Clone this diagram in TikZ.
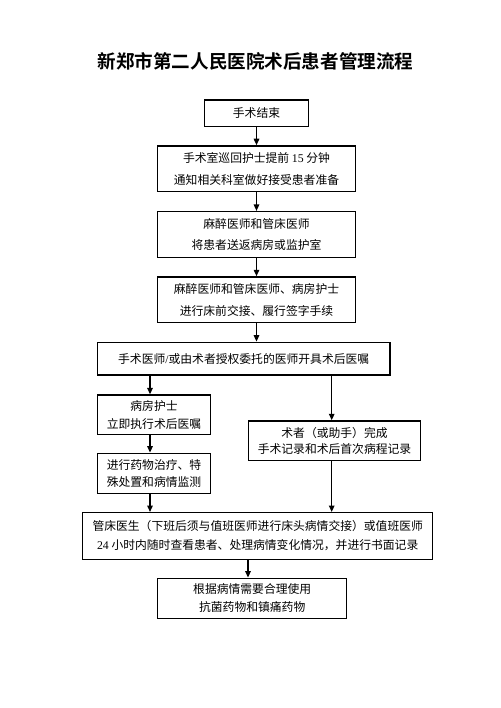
\documentclass[tikz,border=0pt]{standalone}
\usepackage{fontspec}
\setmainfont{Noto Sans CJK SC}
\newfontfamily\titlefont{Noto Sans CJK SC Bold}
\newfontfamily\latfont{Liberation Serif}
\newcommand{\lat}[1]{{\latfont #1}}
\usetikzlibrary{arrows.meta}
\begin{document}
\begin{tikzpicture}[x=1pt,y=-1pt,
  box/.style={draw,line width=1.4pt,inner sep=0pt,align=center,font=\fontsize{11.8}{21.7}\selectfont},
  arr/.style={line width=1.4pt,-{Triangle[length=6.5pt,width=5.5pt]}}]
\useasboundingbox[fill=white] (0,0) rectangle (500,708);
\node[inner sep=0pt] (title) at (255.5,61) {\resizebox{316pt}{!}{\titlefont\fontsize{20}{24}\selectfont 新郑市第二人民医院术后患者管理流程}};
\node[box,minimum width=104pt,minimum height=26.5pt] (b1) at (256.5,113.2) {手术结束};
\node[box,minimum width=197.6pt,minimum height=45.7pt] (b2) at (256.5,168.8) {手术室巡回护士提前 \lat{15} 分钟\\通知相关科室做好接受患者准备};
\node[box,minimum width=197.6pt,minimum height=45.7pt] (b3) at (256.5,234.5) {麻醉医师和管床医师\\将患者送返病房或监护室};
\node[box,minimum width=197.6pt,minimum height=45.7pt] (b4) at (256.5,299.8) {麻醉医师和管床医师、病房护士\\进行床前交接、履行签字手续};
\node[box,minimum width=292.7pt,minimum height=32.7pt] (b5) at (243.7,358.7) {手术医师\lat{/}或由术者授权委托的医师开具术后医嘱};
\node[box,minimum width=113.4pt,minimum height=39.3pt,font=\fontsize{11.8}{17.7}\selectfont] (b6) at (154,414.7) {病房护士\\立即执行术后医嘱};
\node[box,minimum width=113.4pt,minimum height=40pt,font=\fontsize{11.8}{16.5}\selectfont] (b7) at (154,473.3) {进行药物治疗、特\\殊处置和病情监测};
\node[box,minimum width=172.4pt,minimum height=39.7pt,font=\fontsize{11.8}{16}\selectfont] (b8) at (334.5,440.8) {术者（或助手）完成\\手术记录和术后首次病程记录};
\node[box,minimum width=350pt,minimum height=46.6pt,font=\fontsize{11.8}{19}\selectfont] (b9) at (257.7,536) {管床医生（下班后须与值班医师进行床头病情交接）或值班医师\\\lat{24} 小时内随时查看患者、处理病情变化情况，并进行书面记录};
\node[box,minimum width=189pt,minimum height=40pt,font=\fontsize{11.8}{18.3}\selectfont] (b10) at (252.2,598.3) {根据病情需要合理使用\\抗菌药物和镇痛药物};
\coordinate (cm) at (256.5,0);
\coordinate (cl) at (150,0);
\coordinate (cr) at (331.7,0);
\coordinate (cb) at (248,0);
\draw[arr] (b1.south) -- (b2.north);
\draw[arr] (b2.south) -- (b3.north);
\draw[arr] (b3.south) -- (b4.north);
\draw[arr] (b4.south) -- (b5.north -| cm);
\draw[arr] (b5.south -| cl) -- (b6.north -| cl);
\draw[arr] (b6.south -| cl) -- (b7.north -| cl);
\draw[arr] (b7.south -| cl) -- (b9.north -| cl);
\draw[arr] (b5.south -| cr) -- (b8.north -| cr);
\draw[arr] (b8.south -| cr) -- (b9.north -| cr);
\draw[arr] (b9.south -| cb) -- (b10.north -| cb);
\end{tikzpicture}
\end{document}
